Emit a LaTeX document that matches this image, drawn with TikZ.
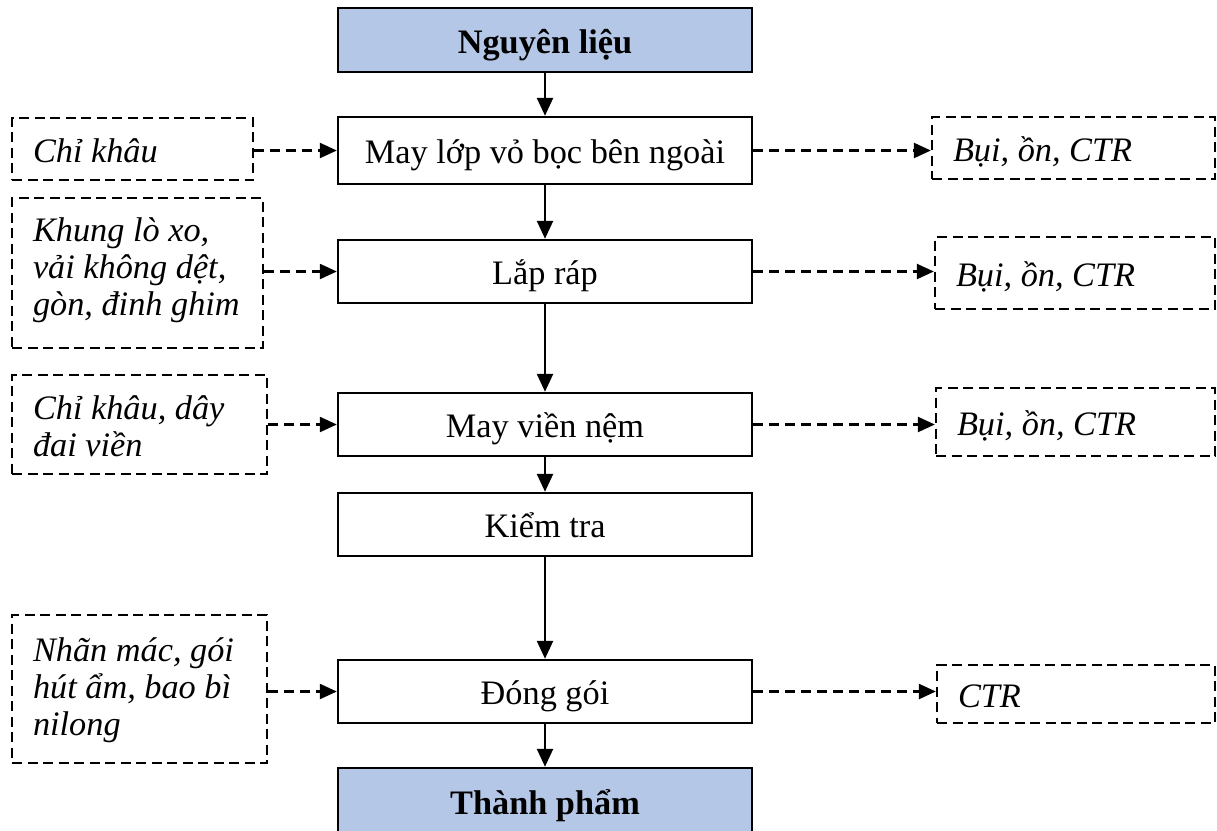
\documentclass[tikz,border=0pt]{standalone}
\usepackage{fontspec}
\setmainfont{Liberation Serif}
\usetikzlibrary{arrows.meta}
\definecolor{stepblue}{RGB}{180,199,231}
% struts that fix the first baseline and the last depth of a text block
\newcommand{\topstrut}{\rule{0pt}{34pt}}
\newcommand{\botstrut}[1][8pt]{\rule[-#1]{0pt}{#1}}

\tikzset{
  base/.style={inner sep=0pt, font=\fontsize{34.3}{37}\selectfont},
  proc/.style={base, draw, line width=2.4pt, minimum width=414pt,
    text height=34pt, text depth=8pt, align=center},
  ends/.style={proc, fill=stepblue,
    font=\fontsize{34.3}{37}\selectfont\bfseries},
  side/.style={base, draw, line width=2.3pt, dash pattern=on 10pt off 5.5pt,
    inner xsep=0pt, align=flush left,
    font=\fontsize{34.3}{37}\selectfont\itshape,
    execute at begin node={\leftskip=21pt\lineskiplimit=-100pt\relax}},
  flow/.style={line width=2.4pt, -{Triangle[length=18pt,width=16pt]}},
  feed/.style={line width=2.3pt, dash pattern=on 10pt off 6pt,
    -{Triangle[length=17pt,width=15pt]}},
}

\begin{document}
\begin{tikzpicture}[x=1pt,y=-1pt]
\useasboundingbox (0,0) rectangle (1217,830);
\clip (0,0) rectangle (1217,830);

% main process chain
\node[ends, minimum height=64pt] (p0) at (545,40) {Nguyên liệu};
\node[proc, minimum height=67pt] (p1) at (545,150.5) {May lớp vỏ bọc bên ngoài};
\node[proc, minimum height=63pt] (p2) at (545,271.5) {Lắp ráp};
\node[proc, minimum height=63pt] (p3) at (545,424.5) {May viền nệm};
\node[proc, minimum height=63pt] (p4) at (545,524.5) {Kiểm tra};
\node[proc, minimum height=63pt] (p5) at (545,691.5) {Đóng gói};
\node[ends, minimum height=67pt] (p6) at (545,801.5) {Thành phẩm};

% inputs
\node[side, text width=241pt, minimum height=62pt] (in1) at (132.5,149)
  {\topstrut Chỉ khâu\botstrut};
\node[side, text width=251pt, minimum height=150pt] (in2) at (137.5,273)
  {\topstrut Khung lò xo,\\ vải không dệt,\\ gòn, đinh ghim\botstrut[24pt]};
\node[side, text width=255pt, minimum height=99pt] (in3) at (139.5,424.5)
  {\topstrut Chỉ khâu, dây\\ đai viền\botstrut};
\node[side, text width=255pt, minimum height=148pt] (in4) at (139.5,689)
  {\topstrut Nhãn mác, gói\\ hút ẩm, bao bì\\ nilong\botstrut[16pt]};

% outputs
\node[side, text width=283pt, minimum height=62pt] (out1) at (1073.5,148)
  {\topstrut Bụi, ồn, CTR\botstrut};
\node[side, text width=280pt, minimum height=72pt] (out2) at (1075,273)
  {\topstrut Bụi, ồn, CTR\botstrut};
\node[side, text width=279pt, minimum height=68pt] (out3) at (1075.5,422)
  {\topstrut Bụi, ồn, CTR\botstrut};
\node[side, text width=278pt, minimum height=58pt] (out4) at (1076,694)
  {\topstrut CTR\botstrut};

% flow arrows
\draw[flow] (p0) -- (p1);
\draw[flow] (p1) -- (p2);
\draw[flow] (p2) -- (p3);
\draw[flow] (p3) -- (p4);
\draw[flow] (p4) -- (p5);
\draw[flow] (p5) -- (p6);

% feed-in and emission arrows
\draw[feed] (in1.east |- p1.west) -- (p1.west);
\draw[feed] (in2.east |- p2.west) -- (p2.west);
\draw[feed] (in3.east |- p3.west) -- (p3.west);
\draw[feed] (in4.east |- p5.west) -- (p5.west);
\draw[feed] (p1.east) -- (p1.east -| out1.west);
\draw[feed] (p2.east) -- (p2.east -| out2.west);
\draw[feed] (p3.east) -- (p3.east -| out3.west);
\draw[feed] (p5.east) -- (p5.east -| out4.west);
\end{tikzpicture}
\end{document}
